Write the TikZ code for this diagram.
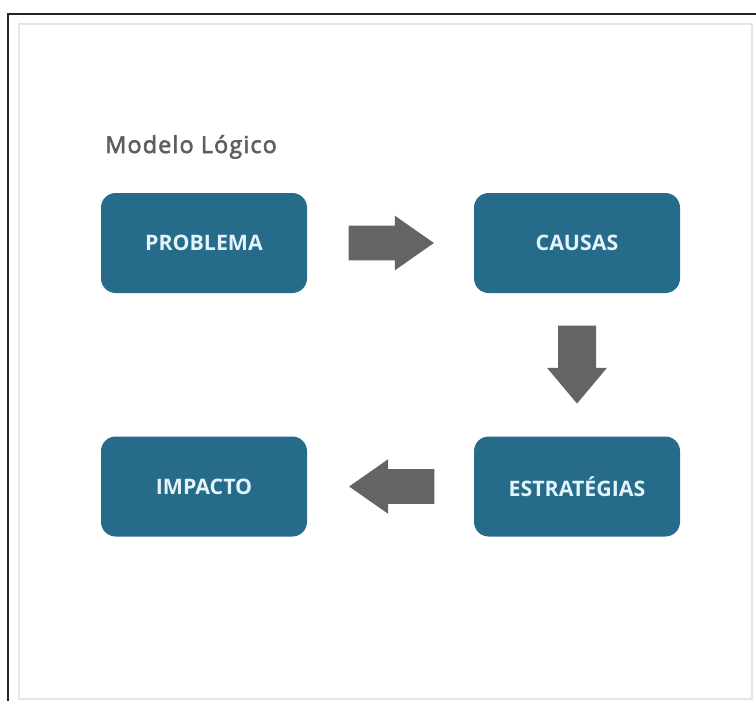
\documentclass[tikz,border=0pt]{standalone}
\usepackage{fontspec}
\setmainfont{Open Sans}
\newfontfamily\titulofonte{Open Sans}[FakeBold=2.5, LetterSpace=5]
\usetikzlibrary{calc,shapes.arrows}
\definecolor{caixaazul}{HTML}{266B8A}
\definecolor{caixatexto}{HTML}{E2F4FA}
\definecolor{setacinza}{HTML}{646464}
\definecolor{titulocinza}{HTML}{5E5E5E}
\tikzset{
	caixa/.style={rectangle, rounded corners=11pt, fill=caixaazul, minimum width=154.5pt, minimum height=75pt, text=caixatexto, font=\fontsize{16}{19}\selectfont\bfseries},
	seta/.style={single arrow, anchor=tail, fill=setacinza, inner sep=12.75pt, minimum height=64pt, minimum width=40.5pt, single arrow tip angle=70, single arrow head extend=7.5pt}
}

\begin{document}
\begin{tikzpicture}[x=0.75pt, y=-0.75pt]
			%%%%% START %%%%%
			
			\useasboundingbox[fill=white] (0, 0) rectangle (756, 701);
			
			\draw[line width=1.1pt, color=black!85] (8, 701) -- (8, 14) -- (756, 14);
			\draw[line width=1.5pt, color=black!10] (19, 24) rectangle (752, 699);
			
			\node[anchor=base west, inner sep=0pt, text=titulocinza, font=\titulofonte\fontsize{17.5}{20}\selectfont] (titulo) at (105, 153) {Modelo Lógico};
			
			\node[caixa] (problema) at (204, 243) {PROBLEMA};
			\node[caixa] (causas) at (577, 243) {CAUSAS};
			\node[caixa] (estrategias) at (577, 486.5) {ESTRATÉGIAS};
			\node[caixa] (impacto) at (204, 486.5) {IMPACTO};
			
			\node[seta] (seta1) at ($(problema.east)+(41, 0)$) {};
			\node[seta, shape border rotate=270, minimum height=58.5pt, minimum width=45pt, single arrow tip angle=80] (seta2) at ($(causas.south)+(0, 32)$) {};
			\node[seta, shape border rotate=180] (seta3) at ($(estrategias.west)+(-39, 0)$) {};
			
			%%%%% END %%%%%
\end{tikzpicture}
\end{document}
